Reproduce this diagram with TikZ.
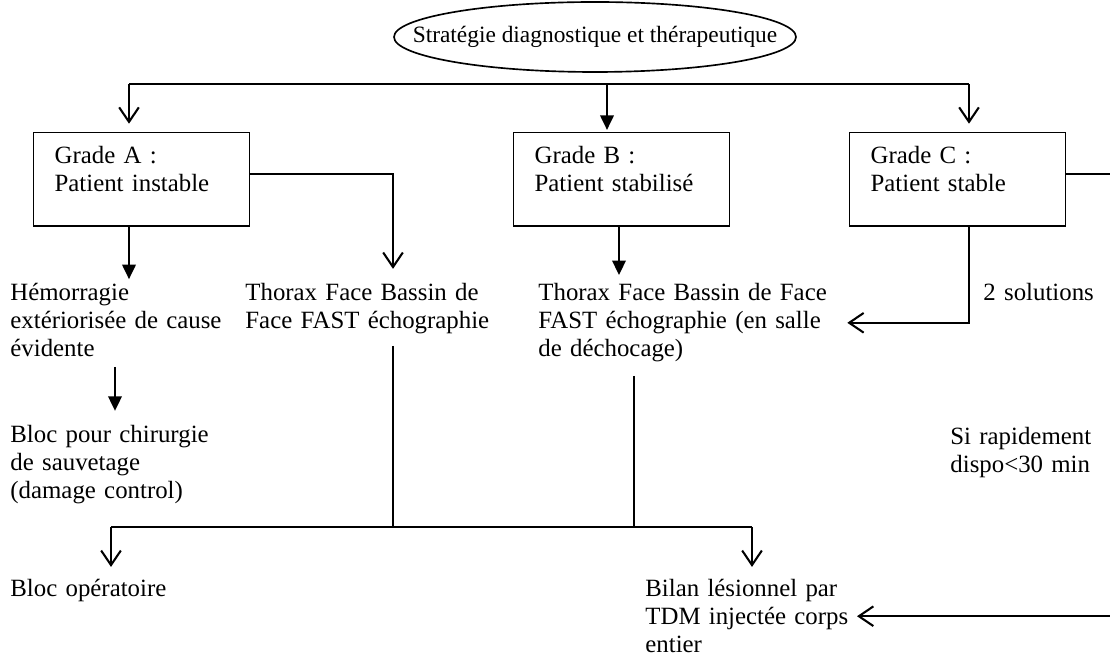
\documentclass[tikz,border=0pt,12pt]{standalone}
\usepackage{fontspec}
\setmainfont{Liberation Serif}
\usetikzlibrary{arrows.meta,shapes.geometric}
\tikzset{
  gradebox/.style={draw,line width=0.7pt,anchor=north west,inner xsep=10.1pt,inner ysep=0pt,
    text width=84pt,text height=15pt,text depth=30pt,align=left,font=\fontsize{12}{13.4}\selectfont},
  note/.style={anchor=base west,inner sep=0pt,align=left,font=\fontsize{12}{13.4}\selectfont},
  line/.style={line width=1pt},
  openarrow/.style={line width=1pt,-{Straight Barb[length=7pt,width=9.5pt]}},
  fullarrow/.style={line width=1pt,-{Triangle[length=7pt,width=6.5pt]}}
}
\begin{document}
\begin{tikzpicture}[x=0.483pt,y=-0.483pt]
  \useasboundingbox (0,0) rectangle (1110,663);
  \node[font=\fontsize{11.3}{13}\selectfont] (titre) at (595,37) {Stratégie diagnostique et thérapeutique};
  \draw[line width=0.8pt] (titre.center) ellipse [x radius=201,y radius=35];
  \node[gradebox] (gradeA) at (33,132) {Grade A :\\Patient instable};
  \node[gradebox] (gradeB) at (513,132) {Grade B :\\Patient stabilisé};
  \node[gradebox] (gradeC) at (849,132) {Grade C :\\Patient stable};
  \node[note,text width=110pt] (hemo) at (10,301) {Hémorragie\\extériorisée de cause\\évidente};
  \node[note,text width=130pt] (thA) at (245,301) {Thorax Face Bassin de\\Face FAST échographie};
  \node[note,text width=145pt] (thB) at (538,301) {Thorax Face Bassin de Face\\FAST échographie (en salle\\de déchocage)};
  \node[note,text width=60pt] (sol) at (983,301) {2 solutions};
  \node[note,text width=100pt] (bloc) at (10,443) {Bloc pour chirurgie\\de sauvetage\\(damage control)};
  \node[note,text width=75pt] (rapide) at (950,445) {Si rapidement\\dispo<30 min};
  \node[note,text width=90pt] (blocop) at (10,597) {Bloc opératoire};
  \node[note,text width=102pt] (bilan) at (645,597) {Bilan lésionnel par\\TDM injectée corps\\entier};
  \coordinate (barA) at (129,84);
  \coordinate (barB) at (607,84);
  \coordinate (barC) at (969,84);
  \coordinate (colB) at (619,0);
  \coordinate (colH) at (115,367);
  \coordinate (vA) at (393,346);
  \coordinate (vB) at (634,376);
  \coordinate (gauche) at (111,527);
  \coordinate (droite) at (752,527);
  \coordinate (bord) at (1110,0);
  \draw[line] (barA) -- (barC);
  \draw[openarrow,shorten >=4pt] (barA) -- (barA |- gradeA.north);
  \draw[fullarrow,shorten >=1pt] (barB) -- (barB |- gradeB.north);
  \draw[openarrow,shorten >=4pt] (barC) -- (barC |- gradeC.north);
  \draw[fullarrow,shorten >=2pt] (gradeA.south -| barA) -- (barA |- hemo.north);
  \draw[openarrow,shorten >=7pt] ([yshift=2.5pt]gradeA.east) -| (vA |- thA.north);
  \draw[fullarrow,shorten >=4pt] (gradeB.south -| colB) -- (colB |- thB.north);
  \draw[openarrow,shorten >=4pt] (gradeC.south -| barC) |- (thB.east);
  \draw[line] ([yshift=2.5pt]gradeC.east) -- ([yshift=2.5pt]gradeC.east -| bord);
  \draw[fullarrow,shorten >=7pt] (colH) -- (colH |- bloc.north);
  \draw[line] (vA) -- (vA |- gauche);
  \draw[line] (vB) -- (vB |- droite);
  \draw[line] (gauche) -- (droite);
  \draw[openarrow,shorten >=6pt] (gauche) -- (gauche |- blocop.north);
  \draw[openarrow,shorten >=6pt] (droite) -- (droite |- bilan.north);
  \draw[openarrow] (bilan.east -| bord) -- (bilan.east);
\end{tikzpicture}
\end{document}
